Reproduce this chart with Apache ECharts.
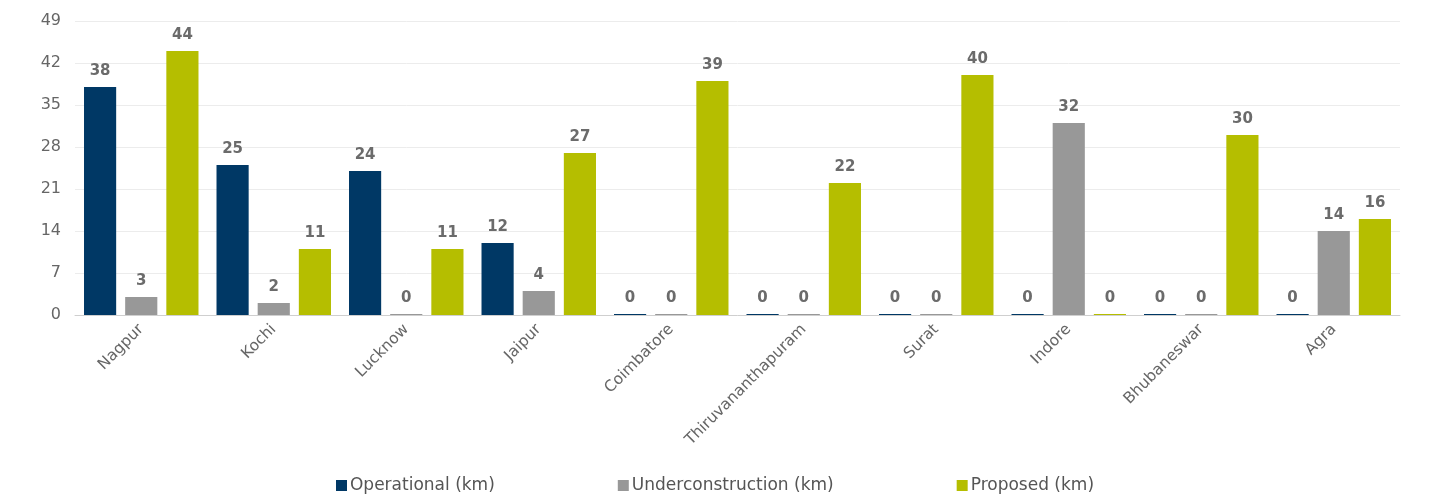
<!DOCTYPE html>
<html>
<head>
<meta charset="utf-8">
<script src="https://cdn.jsdelivr.net/npm/echarts@6/dist/echarts.min.js"></script>
<style>
  html, body { margin: 0; padding: 0; background: #fff; }
  #chart { width: 1430px; height: 498px; }
</style>
</head>
<body>
<div id="chart"></div>
<script>
// Metro network length by city (km)
const cities = ['Nagpur', 'Kochi', 'Lucknow', 'Jaipur', 'Coimbatore', 'Thiruvananthapuram', 'Surat', 'Indore', 'Bhubaneswar', 'Agra'];
const operational = [38, 25, 24, 12, 0, 0, 0, 0, 0, 0];
const underConstruction = [3, 2, 0, 4, 0, 0, 0, 32, 0, 14];
const proposed = [44, 11, 11, 27, 39, 22, 40, 0, 30, 16];
const seriesNames = ['Operational (km)', 'Underconstruction (km)', 'Proposed (km)'];
const seriesColors = ['#003865', '#989898', '#b5be00'];

const FONT = '"DejaVu Sans", Verdana, sans-serif';

function barSeries(name, data, color) {
  return {
    name: name,
    type: 'bar',
    data: data,
    barGap: '28%',
    barCategoryGap: '13.6%',
    barMinHeight: 1,
    itemStyle: { color: color },
    label: {
      show: true,
      position: 'top',
      distance: 8,
      color: '#6b6b6b',
      fontWeight: 'bold',
      fontSize: 15,
      fontFamily: FONT
    }
  };
}

const chart = echarts.init(document.getElementById('chart'), null, { renderer: 'canvas' });
chart.setOption({
  animation: false,
  color: seriesColors,
  grid: { left: 75, right: 30, top: 21, bottom: 183, containLabel: false },
  legend: {
    bottom: -1,
    left: 'center',
    itemWidth: 11,
    itemHeight: 11,
    itemGap: 123,
    icon: 'rect',
    textStyle: { color: '#555', fontSize: 17, fontFamily: FONT, padding: [0, 0, 0, -2] },
    data: seriesNames
  },
  xAxis: {
    type: 'category',
    data: cities,
    axisLine: { lineStyle: { color: '#cfcfcf', width: 1 } },
    axisTick: { show: false },
    axisLabel: {
      rotate: 45,
      interval: 0,
      color: '#666',
      fontSize: 15.5,
      fontFamily: FONT,
      margin: 12
    }
  },
  yAxis: {
    type: 'value',
    min: 0,
    max: 49,
    interval: 7,
    axisLine: { show: false },
    axisTick: { show: false },
    splitLine: { lineStyle: { color: '#ececec', width: 1 } },
    axisLabel: { color: '#666', fontSize: 16, fontFamily: FONT, margin: 14 }
  },
  series: [
    barSeries(seriesNames[0], operational, seriesColors[0]),
    barSeries(seriesNames[1], underConstruction, seriesColors[1]),
    barSeries(seriesNames[2], proposed, seriesColors[2])
  ]
});
</script>
</body>
</html>
